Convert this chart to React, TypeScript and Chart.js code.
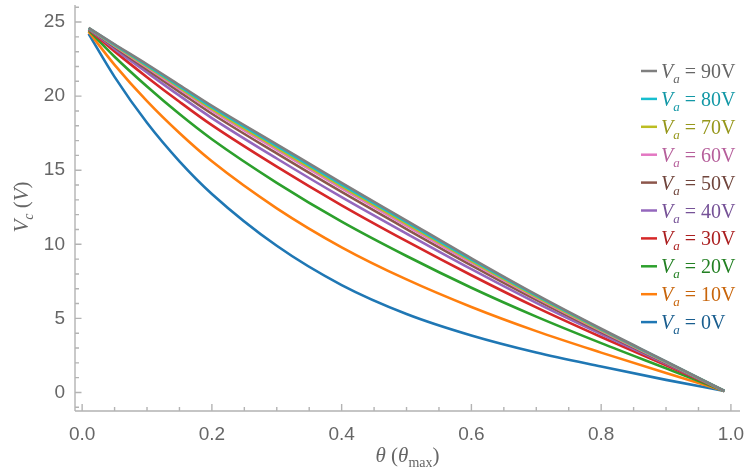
import React, { useEffect, useRef } from 'react';
import { Chart, registerables } from 'chart.js';

Chart.register(...registerables);

// ---- data ----
const THETA = [0.01, 0.05, 0.1, 0.15, 0.2, 0.3, 0.4, 0.5, 0.6, 0.7, 0.8, 0.9, 0.99];

const VC_0V = [24.2, 21.3, 18.2, 15.6, 13.4, 9.9, 7.25, 5.3, 3.85, 2.7, 1.75, 0.85, 0.1];
const VC_10V = [24.35, 22.11, 19.66, 17.51, 15.6, 12.43, 9.8, 7.63, 5.77, 4.14, 2.69, 1.31, 0.1];
const VC_20V = [24.45, 22.66, 20.65, 18.79, 17.09, 14.15, 11.53, 9.21, 7.07, 5.12, 3.33, 1.63, 0.1];
const VC_30V = [24.51, 23.02, 21.28, 19.62, 18.04, 15.24, 12.63, 10.21, 7.91, 5.74, 3.74, 1.83, 0.1];
const VC_40V = [24.54, 23.19, 21.6, 20.03, 18.52, 15.79, 13.18, 10.72, 8.32, 6.05, 3.94, 1.93, 0.1];
const VC_50V = [24.56, 23.3, 21.79, 20.29, 18.81, 16.13, 13.53, 11.03, 8.58, 6.25, 4.07, 1.99, 0.1];
const VC_60V = [24.58, 23.38, 21.93, 20.47, 19.02, 16.37, 13.77, 11.25, 8.76, 6.39, 4.16, 2.03, 0.1];
const VC_70V = [24.59, 23.42, 22.01, 20.57, 19.14, 16.51, 13.91, 11.38, 8.87, 6.46, 4.21, 2.06, 0.1];
const VC_80V = [24.59, 23.46, 22.08, 20.66, 19.25, 16.63, 14.03, 11.49, 8.96, 6.53, 4.26, 2.08, 0.1];
const VC_90V = [24.6, 23.5, 22.15, 20.75, 19.35, 16.75, 14.15, 11.6, 9.05, 6.6, 4.3, 2.1, 0.1];

// legend order (top to bottom) = drawing order (first is on top)
const SERIES_LABELS = ['90V', '80V', '70V', '60V', '50V', '40V', '30V', '20V', '10V', '0V'];
const SERIES_VALUES = [VC_90V, VC_80V, VC_70V, VC_60V, VC_50V, VC_40V, VC_30V, VC_20V, VC_10V, VC_0V];
const LINE_COLORS = ['#7f7f7f', '#17becf', '#bcbd22', '#e377c2', '#8c564b', '#9467bd', '#d62728', '#2ca02c', '#ff7f0e', '#1f77b4'];
const TEXT_COLORS = ['#666666', '#1398a6', '#96971b', '#b65f9b', '#70453c', '#765297', '#ab1f20', '#238023', '#c8650b', '#1a5e8f'];

const X_MAJOR_TICKS = [0, 0.2, 0.4, 0.6, 0.8, 1.0];
const Y_MAJOR_TICKS = [0, 5, 10, 15, 20, 25];
const X_MIN = -0.011;
const X_MAX = 1.014;
const Y_MIN = -1.25;
const Y_MAX = 26.15;

const AXIS_COLOR = '#b3b3b3';
const LABEL_COLOR = '#666666';
const SERIF = '"Liberation Serif", "DejaVu Serif", serif';
const SANS = '"Liberation Sans", Arial, sans-serif';

type Part = { t: string; font: string; dy?: number; color?: string };

function measureParts(ctx: CanvasRenderingContext2D, parts: Part[]) {
  let w = 0;
  for (const p of parts) {
    ctx.font = p.font;
    w += ctx.measureText(p.t).width;
  }
  return w;
}

function drawParts(ctx: CanvasRenderingContext2D, x: number, y: number, parts: Part[], color: string) {
  let cx = x;
  for (const p of parts) {
    ctx.font = p.font;
    ctx.fillStyle = p.color || color;
    ctx.fillText(p.t, cx, y + (p.dy || 0));
    cx += ctx.measureText(p.t).width;
  }
}

const mmaPlugin = {
  id: 'mmaDecor',
  beforeDatasetsDraw(chart: any) {
    const { ctx, chartArea: a, scales } = chart;
    const xs = scales.x;
    const ys = scales.y;
    ctx.save();
    ctx.strokeStyle = AXIS_COLOR;
    ctx.lineWidth = 1.4;
    ctx.beginPath();
    ctx.moveTo(a.left, a.bottom);
    ctx.lineTo(a.right, a.bottom);
    ctx.moveTo(a.left, a.bottom);
    ctx.lineTo(a.left, a.top);
    for (let i = 0; i <= 20; i++) {
      const v = i * 0.05;
      const px = xs.getPixelForValue(v);
      const major = X_MAJOR_TICKS.some((m) => Math.abs(m - v) < 1e-6);
      ctx.moveTo(px, a.bottom);
      ctx.lineTo(px, a.bottom - (major ? 7 : 4));
    }
    for (let v = -1; v <= 26; v++) {
      const py = ys.getPixelForValue(v);
      const major = Y_MAJOR_TICKS.includes(v);
      ctx.moveTo(a.left, py);
      ctx.lineTo(a.left + (major ? 6.5 : 4), py);
    }
    ctx.stroke();
    ctx.restore();
  },
  afterDraw(chart: any) {
    const { ctx, chartArea: a } = chart;
    ctx.save();
    ctx.textBaseline = 'alphabetic';
    ctx.textAlign = 'left';

    const fs = 21;
    const xParts: Part[] = [
      { t: 'θ', font: `italic ${fs}px ${SERIF}` },
      { t: ' (', font: `${fs}px ${SERIF}` },
      { t: 'θ', font: `italic ${fs}px ${SERIF}` },
      { t: 'max', font: `14px ${SERIF}`, dy: 5 },
      { t: ')', font: `${fs}px ${SERIF}` },
    ];
    const xw = measureParts(ctx, xParts);
    drawParts(ctx, (a.left + a.right) / 2 - xw / 2, 462, xParts, LABEL_COLOR);

    const yParts: Part[] = [
      { t: 'V', font: `italic ${fs}px ${SERIF}` },
      { t: 'c', font: `italic 14px ${SERIF}`, dy: 5 },
      { t: ' (', font: `${fs}px ${SERIF}` },
      { t: 'V', font: `italic ${fs}px ${SERIF}` },
      { t: ')', font: `${fs}px ${SERIF}` },
    ];
    const yw = measureParts(ctx, yParts);
    ctx.save();
    ctx.translate(28, 207);
    ctx.rotate(-Math.PI / 2);
    drawParts(ctx, -yw / 2, 0, yParts, LABEL_COLOR);
    ctx.restore();

    const lx0 = 641;
    const lx1 = 657;
    const ly0 = 71;
    const step = 27.9;
    SERIES_LABELS.forEach((lab, i) => {
      const cy = ly0 + i * step;
      ctx.strokeStyle = LINE_COLORS[i];
      ctx.lineWidth = 2.5;
      ctx.beginPath();
      ctx.moveTo(lx0, cy);
      ctx.lineTo(lx1, cy);
      ctx.stroke();
      const parts: Part[] = [
        { t: 'V', font: `italic 20px ${SERIF}` },
        { t: 'a', font: `italic 13px ${SERIF}`, dy: 5 },
        { t: ' = ', font: `20px ${SERIF}` },
        { t: lab, font: `20px ${SERIF}` },
      ];
      drawParts(ctx, 661, cy + 7, parts, TEXT_COLORS[i]);
    });
    ctx.restore();
  },
};

export default function App() {
  const ref = useRef<HTMLCanvasElement | null>(null);

  useEffect(() => {
    document.body.style.margin = '0';
    const canvas = ref.current;
    if (!canvas) return;
    const datasets = SERIES_LABELS.map((lab, i) => ({
      label: 'Va = ' + lab,
      data: THETA.map((t, j) => ({ x: t, y: SERIES_VALUES[i][j] })),
      borderColor: LINE_COLORS[i],
      backgroundColor: LINE_COLORS[i],
      borderWidth: 2.6,
      pointRadius: 0,
      fill: false,
      cubicInterpolationMode: 'monotone' as const,
    }));

    const chart = new Chart(canvas, {
      type: 'line',
      data: { datasets },
      options: {
        animation: false,
        responsive: false,
        devicePixelRatio: 1,
        layout: { padding: { top: 5, right: 8, left: 0, bottom: 0 } },
        plugins: { legend: { display: false }, tooltip: { enabled: false } },
        scales: {
          x: {
            type: 'linear',
            min: X_MIN,
            max: X_MAX,
            grid: { display: false, drawTicks: false },
            border: { display: false },
            afterBuildTicks: (s: any) => {
              s.ticks = X_MAJOR_TICKS.map((v) => ({ value: v }));
            },
            afterFit: (s: any) => {
              s.height = 65;
              s.paddingLeft = 0;
              s.paddingRight = 0;
            },
            ticks: {
              autoSkip: false,
              maxRotation: 0,
              padding: 12,
              color: LABEL_COLOR,
              font: { family: SANS, size: 19 },
              callback: (v: any) => Number(v).toFixed(1),
            },
          },
          y: {
            type: 'linear',
            min: Y_MIN,
            max: Y_MAX,
            grid: { display: false, drawTicks: false },
            border: { display: false },
            afterBuildTicks: (s: any) => {
              s.ticks = Y_MAJOR_TICKS.map((v) => ({ value: v }));
            },
            afterFit: (s: any) => {
              s.width = 75;
              s.paddingTop = 0;
              s.paddingBottom = 0;
            },
            ticks: {
              autoSkip: false,
              padding: 10,
              color: LABEL_COLOR,
              font: { family: SANS, size: 19 },
              callback: (v: any) => String(v),
            },
          },
        },
      },
      plugins: [mmaPlugin],
    });
    return () => chart.destroy();
  }, []);

  return (
    <div style={{ width: 748, height: 476 }}>
      <canvas ref={ref} width={748} height={476} style={{ display: 'block', width: 748, height: 476 }} />
    </div>
  );
}
